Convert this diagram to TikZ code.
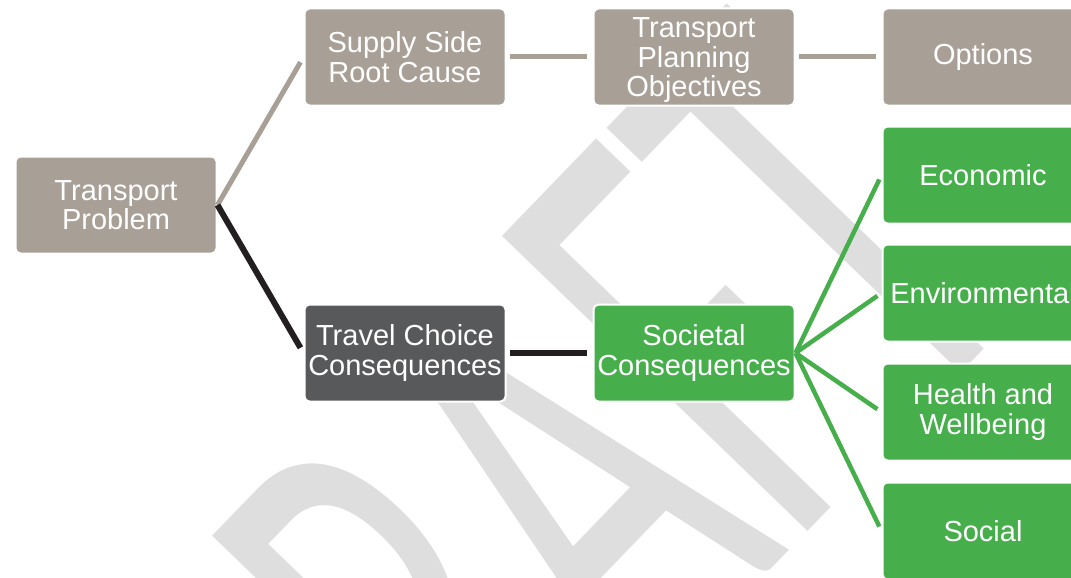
\documentclass[tikz,border=0pt]{standalone}
\usepackage{fontspec}
\setmainfont{Liberation Sans}
\newfontfamily\wmfont{Carlito}
\usepackage{tikz}
\usetikzlibrary{positioning}

\definecolor{boxgrey}{HTML}{A89F96}
\definecolor{boxdark}{HTML}{58595B}
\definecolor{boxgreen}{HTML}{46AF4B}
\definecolor{linkblack}{HTML}{231F20}
\definecolor{wmgrey}{HTML}{DEDEDE}

\begin{document}
\begin{tikzpicture}[x=1pt,y=-1pt,-,auto,node distance=289pt,semithick]
  \tikzstyle{card}=[rectangle, rounded corners=5pt, draw=white, line width=2pt,
    minimum width=201pt, minimum height=97pt, inner sep=2pt, align=center,
    text=white, font=\fontsize{29}{29.5}\selectfont]
  \tikzstyle{grey}=[card, fill=boxgrey]
  \tikzstyle{dark}=[card, fill=boxdark]
  \tikzstyle{green}=[card, fill=boxgreen]
  \tikzstyle{glink}=[draw=boxgrey, line width=5pt, shorten >=6pt]
  \tikzstyle{blink}=[draw=linkblack, line width=6pt, shorten >=6pt]
  \tikzstyle{nlink}=[draw=boxgreen, line width=4.5pt, shorten >=5pt]

  \useasboundingbox (0,0) rectangle (1071,578);
  \clip (0,0) rectangle (1071,578);

  % watermark
  \node[rotate=46, yscale=1.775, text=wmgrey, inner sep=0pt,
    font=\wmfont\fontsize{373}{373}\selectfont]
    (draft) at (535,508) {DRAFT};

  \node[grey] (P) at (116,205) {Transport\\Problem};
  \node[grey] (S) [right of=P, yshift=148pt] {Supply Side\\Root Cause};
  \node[grey] (T) [right of=S] {\rule{0pt}{27pt}Transport\\Planning\\Objectives};
  \node[grey] (O) [right of=T] {Options};
  \node[dark] (C) [right of=P, yshift=-148pt] {Travel Choice\\Consequences};
  \node[green] (Soc) [right of=C] {Societal\\Consequences};

  \node[green] (Eco) [right of=Soc, yshift=178pt] {Economic};
  \node[green] (Env) [right of=Soc, yshift=60pt] {Environmental};
  \node[green] (Hea) [right of=Soc, yshift=-59pt] {Health and\\Wellbeing};
  \node[green] (Sol) [right of=Soc, yshift=-178pt] {Social};

  \path
    (P.east) edge[glink] (S.west)
    (S.east) edge[glink, shorten <=3pt] (T.west)
    (T.east) edge[glink, shorten <=3pt] (O.west)
    (P.east) edge[blink] (C.west)
    (C.east) edge[blink, shorten <=3pt] (Soc.west)
    (Soc.east) edge[nlink] (Eco.west)
    (Soc.east) edge[nlink] (Env.west)
    (Soc.east) edge[nlink] (Hea.west)
    (Soc.east) edge[nlink] (Sol.west);

\end{tikzpicture}
\end{document}
